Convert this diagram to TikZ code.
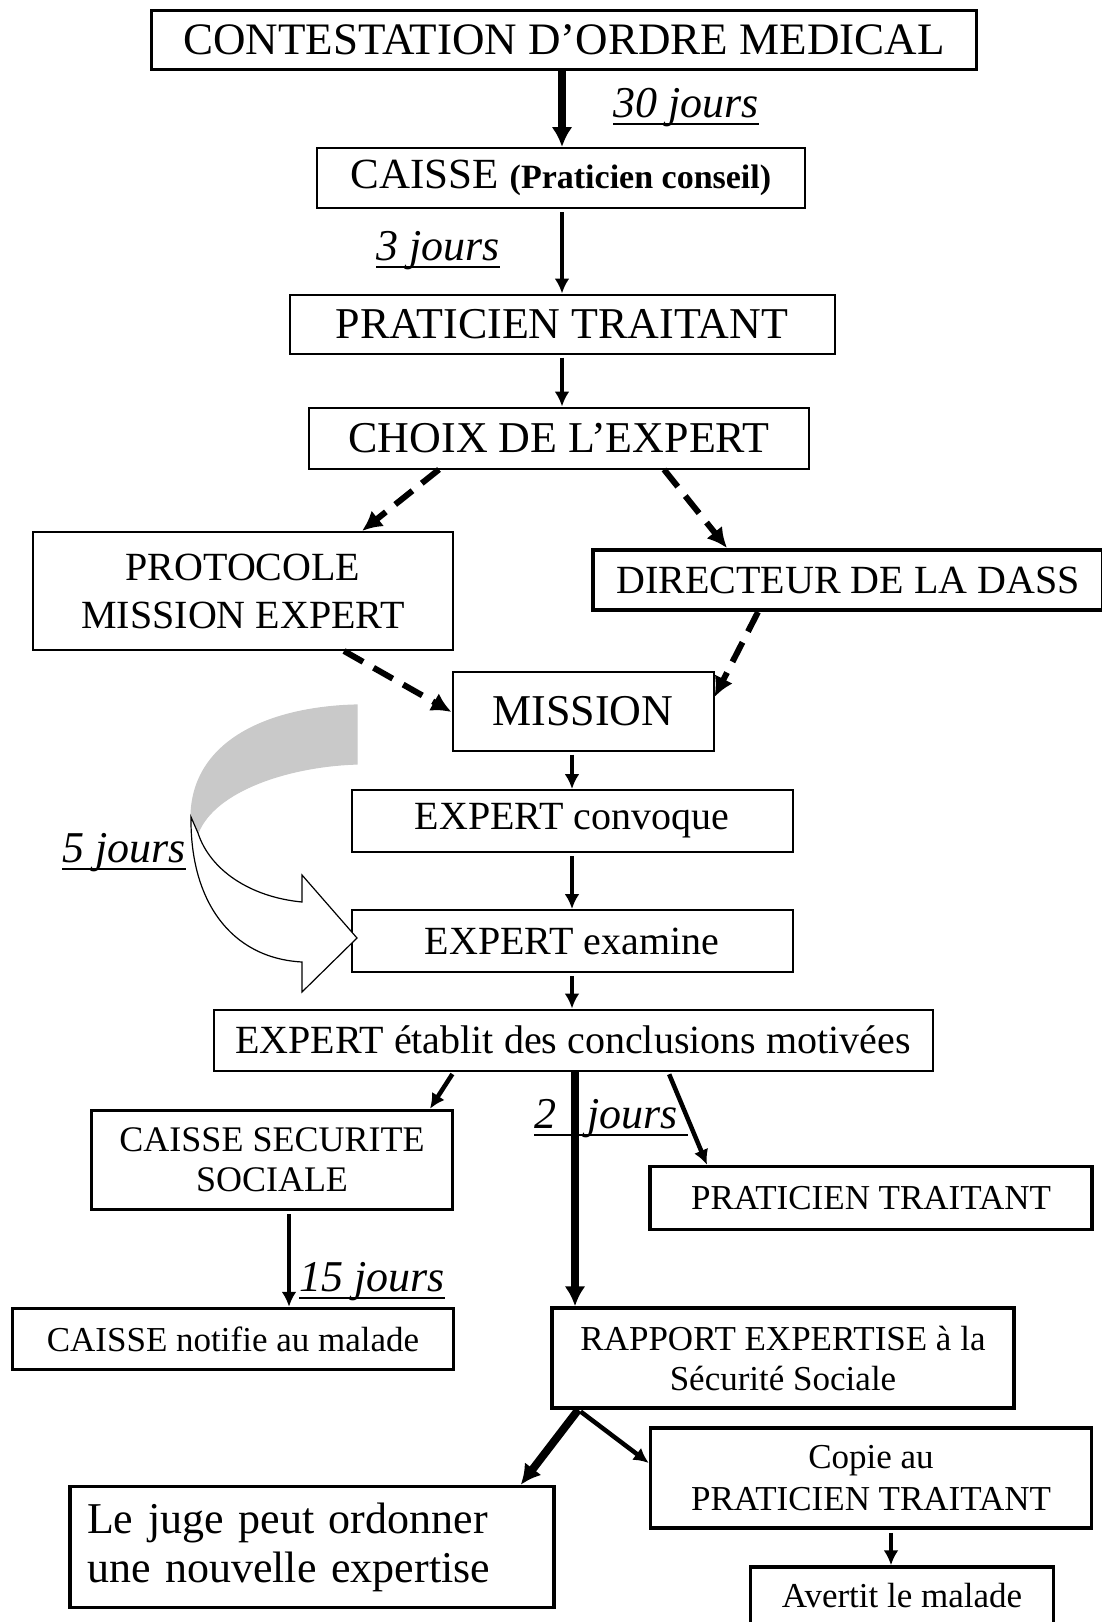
\documentclass[tikz,border=0pt]{standalone}
\usepackage{fontspec}
\setmainfont{Liberation Serif}
\usetikzlibrary{arrows.meta}
\newcommand{\fsz}[2]{\fontsize{#1}{#2}\selectfont}

\begin{document}
\begin{tikzpicture}[x=1pt,y=-1pt]

\tikzset{box/.style = {draw, line width=2pt, inner sep=0pt, align=center}}
\tikzset{heavy/.style = {box, line width=3.5pt}}
\tikzset{edge/.style = {-{Latex[length=15pt,width=15pt]}, line width=4.5pt, shorten <=3pt}}
\tikzset{bigedge/.style = {-{Latex[length=20pt,width=21pt]}, line width=8pt}}
\tikzset{dashedge/.style = {-{Latex[length=20pt,width=20pt]}, line width=6pt, dash pattern=on 22pt off 12pt}}
\tikzset{delay/.style = {font=\itshape\fsz{44}{50}, inner sep=0pt, anchor=base}}
\tikzset{uline/.style = {line width=1.8pt}}

\useasboundingbox (0,0) rectangle (1101,1622);

% boxes
\node[box, line width=3pt, minimum width=825pt, minimum height=59pt, font=\fsz{45}{50}] (1) at (564,40) {CONTESTATION D’ORDRE MEDICAL};
\node[box, minimum width=488pt, minimum height=60pt, font=\fsz{43}{50}] (2) at (561,178) {CAISSE {\bfseries\fsz{34}{40}(Praticien conseil)}};
\node[box, minimum width=545pt, minimum height=59pt, font=\fsz{44}{50}] (3) at (562,324) {PRATICIEN TRAITANT};
\node[box, minimum width=500pt, minimum height=61pt, font=\fsz{44}{50}] (4) at (559,438) {CHOIX DE L’EXPERT};
\node[box, minimum width=420pt, minimum height=118pt, font=\fsz{40}{48}] (5) at (243,591) {PROTOCOLE\\MISSION EXPERT};
\node[heavy, line width=4pt, minimum width=510pt, minimum height=60pt, font=\fsz{40}{46}] (6) at (848,580) {DIRECTEUR DE LA DASS};
\node[box, minimum width=261pt, minimum height=79pt, font=\fsz{44}{50}] (7) at (583,711) {MISSION};
\node[box, minimum width=441pt, minimum height=62pt, font=\fsz{40}{46}] (8) at (572,821) {EXPERT convoque};
\node[box, minimum width=441pt, minimum height=62pt, font=\fsz{40}{46}] (9) at (572,941) {EXPERT examine};
\node[box, minimum width=719pt, minimum height=61pt, font=\fsz{40}{46}] (10) at (573,1040) {EXPERT établit des conclusions motivées};
\node[heavy, minimum width=361pt, minimum height=99pt, font=\fsz{36}{40}] (11) at (272,1160) {CAISSE SECURITE\\SOCIALE};
\node[heavy, minimum width=442pt, minimum height=63pt, font=\fsz{35}{40}] (12) at (871,1198) {PRATICIEN TRAITANT};
\node[heavy, minimum width=441pt, minimum height=61pt, font=\fsz{35}{40}] (13) at (233,1339) {CAISSE notifie au malade};
\node[heavy, minimum width=462pt, minimum height=100pt, font=\fsz{35}{40}] (14) at (783,1358) {RAPPORT EXPERTISE à la\\Sécurité Sociale};
\node[heavy, minimum width=441pt, minimum height=100pt, font=\fsz{35}{42}] (15) at (871,1478) {Copie au\\PRATICIEN TRAITANT};
\node[heavy, minimum height=121pt, text width=450pt, inner xsep=17pt, align=left, font=\fsz{44}{49}] (16) at (312,1547) {Le juge peut ordonner\\une nouvelle expertise};
\node[heavy, minimum width=303pt, minimum height=58pt, font=\fsz{35}{40}] (17) at (902,1596) {Avertit le malade};

% curved arrow
\fill[black!21, draw, line width=1.2pt] (357,705) .. controls (270,707) and (192,740) .. (191,817) -- (198,833) .. controls (215,790) and (290,766) .. (357,764) -- cycle;
\draw[line width=1.2pt, fill=white] (191,817) .. controls (190,900) and (230,958) .. (302,962) -- (302,992) -- (357,938) -- (302,875) -- (302,902) .. controls (250,897) and (210,870) .. (198,833) -- cycle;

% delays
\node[delay] (l1) at (686,117) {30 jours};
\node[delay] (l2) at (438,260) {3 jours};
\node[delay] (l3) at (124,862) {5 jours};
\node[delay] (l4) at (606,1128) {2\hspace{31pt}jours};
\node[delay] (l5) at (372,1291) {15 jours};
\draw[uline] ([yshift=-7pt]l1.base west) -- ([yshift=-7pt]l1.base east);
\draw[uline] ([yshift=-7pt]l2.base west) -- ([yshift=-7pt]l2.base east);
\draw[uline] ([yshift=-7pt]l3.base west) -- ([yshift=-7pt]l3.base east);
\draw[uline] ([yshift=-7pt]l4.base west) -- ([xshift=10pt,yshift=-7pt]l4.base east);
\draw[uline] ([yshift=-7pt]l5.base west) -- ([yshift=-7pt]l5.base east);

%arrows
\draw[bigedge] (1.south -| 3.north) -- (3.north |- 2.north);
\draw[edge] (3.north |- 2.south) -- (3.north);
\draw[edge] (3.south) -- (3.south |- 4.north);
\draw[dashedge] ([xshift=-120pt]4.south) -- ([xshift=119pt]5.north);
\draw[dashedge] ([xshift=105pt]4.south) -- ([xshift=-121pt]6.north);
\draw[dashedge] ([xshift=101pt]5.south) -- ([yshift=-1pt]7.west);
\draw[dashedge] ([xshift=-90pt]6.south) -- ([yshift=14pt]7.east);
\draw[edge] (7.south -| 8.north) -- (8.north);
\draw[edge] (8.south) -- (9.north);
\draw[edge] (9.south) -- (9.south |- 10.north);
\draw[edge] ([xshift=-119pt]10.south) -- ([xshift=158pt]11.north);
\draw[bigedge] ([xshift=2pt]10.south) -- ([xshift=2pt]10.south |- 14.north);
\draw[edge] ([xshift=95pt]10.south) -- ([xshift=-164pt]12.north);
\draw[edge] ([xshift=17pt]11.south) -- ([xshift=17pt]11.south |- 13.north);
\draw[bigedge] ([xshift=28pt]14.south west) -- ([xshift=-35pt]16.north east);
\draw[edge] ([xshift=28pt]14.south west) -- ([yshift=15pt]15.west);
\draw[edge] ([xshift=20pt]15.south) -- ([xshift=20pt]15.south |- 17.north);

\end{tikzpicture}
\end{document}
